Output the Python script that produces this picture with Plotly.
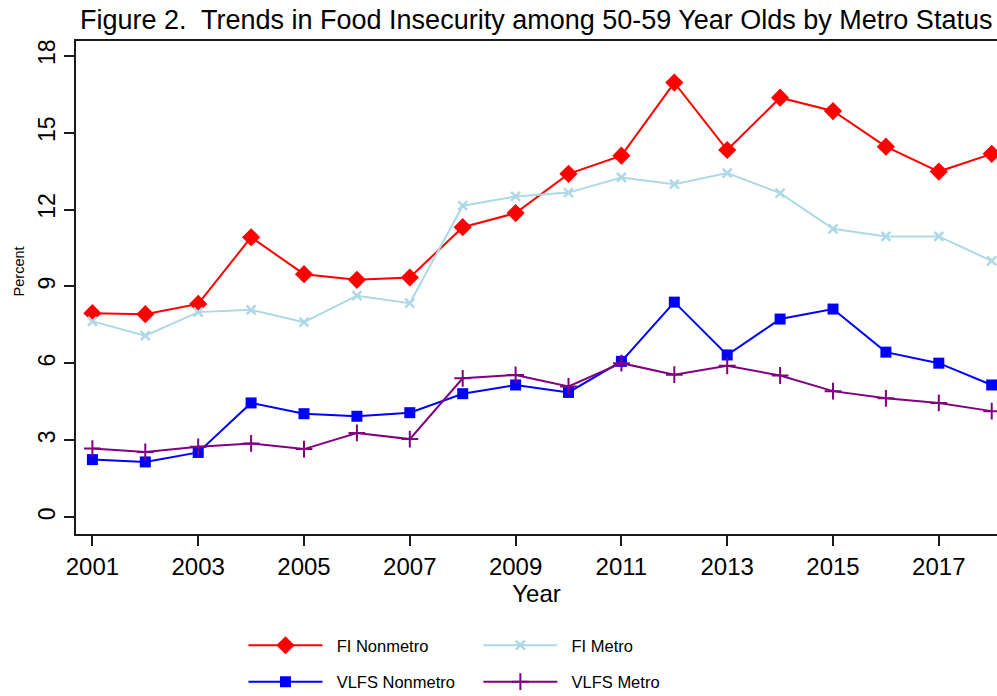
import plotly.graph_objects as go

# Survey years
years = list(range(2001, 2019))

# Food insecurity rates (percent) for 50-59 year olds
fi_nonmetro = [7.96, 7.92, 8.32, 10.92, 9.48, 9.26, 9.35, 11.31, 11.86,
               13.39, 14.10, 16.95, 14.32, 16.36, 15.84, 14.45, 13.48, 14.17]
fi_metro = [7.64, 7.08, 8.00, 8.09, 7.61, 8.64, 8.35, 12.15, 12.51,
            12.66, 13.25, 12.99, 13.42, 12.64, 11.25, 10.95, 10.95, 10.00]
vlfs_nonmetro = [2.25, 2.16, 2.53, 4.46, 4.04, 3.94, 4.08, 4.82, 5.16,
                 4.87, 6.08, 8.39, 6.33, 7.73, 8.12, 6.44, 6.01, 5.16]
vlfs_metro = [2.68, 2.55, 2.75, 2.88, 2.66, 3.29, 3.05, 5.42, 5.55,
              5.10, 6.01, 5.56, 5.91, 5.53, 4.92, 4.64, 4.46, 4.14]

x_ticks = list(range(2001, 2019, 2))
y_ticks = [0, 3, 6, 9, 12, 15, 18]

FONT = "Liberation Sans, Arial, sans-serif"
GAP = "\u00a0\u00a0"  # small space between legend key and label

fig = go.Figure()

fig.add_trace(go.Scatter(
    x=years, y=fi_nonmetro, name=GAP + "FI Nonmetro", mode="lines+markers",
    line=dict(color="#FF0000", width=2),
    marker=dict(symbol="diamond", size=14, color="#FF0000"),
    legend="legend", legendgroup="a"))
fig.add_trace(go.Scatter(
    x=years, y=fi_metro, name=GAP + "FI Metro", mode="lines+markers",
    line=dict(color="#ADD8E6", width=2),
    marker=dict(symbol="x-thin", size=9, color="#ADD8E6",
                line=dict(color="#ADD8E6", width=2.5)),
    legend="legend2", legendgroup="b"))
fig.add_trace(go.Scatter(
    x=years, y=vlfs_nonmetro, name=GAP + "VLFS Nonmetro", mode="lines+markers",
    line=dict(color="#0000FF", width=2),
    marker=dict(symbol="square", size=11, color="#0000FF"),
    legend="legend", legendgroup="c"))
fig.add_trace(go.Scatter(
    x=years, y=vlfs_metro, name=GAP + "VLFS Metro", mode="lines+markers",
    line=dict(color="#800080", width=2),
    marker=dict(symbol="cross-thin", size=12, color="#800080",
                line=dict(color="#800080", width=2)),
    legend="legend2", legendgroup="d"))

legend_common = dict(
    orientation="v", xanchor="left", yanchor="top",
    xref="container", yref="container",
    font=dict(family=FONT, size=16.5, color="#000000"),
    bgcolor="rgba(0,0,0,0)", borderwidth=0,
    itemwidth=74, tracegroupgap=12,
)

fig.update_layout(
    width=997, height=696,
    margin=dict(l=75.5, r=0, t=41, b=161.7, autoexpand=False),
    paper_bgcolor="white", plot_bgcolor="white",
    title=dict(
        text="Figure 2.  Trends in Food Insecurity among 50-59 Year Olds by Metro Status",
        font=dict(family=FONT, size=27, color="#000000"),
        x=0.5378, xanchor="center", y=1 - 20 / 696, yanchor="middle",
        yref="container", xref="container"),
    xaxis=dict(
        range=[2000.69, 2018.1], tickvals=x_ticks, ticktext=[str(v) for v in x_ticks],
        showgrid=False, zeroline=False, automargin=False,
        showline=True, linecolor="#1a1a1a", linewidth=2, mirror=True,
        ticks="outside", ticklen=10, tickwidth=1.5, tickcolor="#1a1a1a",
        tickfont=dict(family=FONT, size=24, color="#000000"),
        title=dict(text="Year", font=dict(family=FONT, size=24, color="#000000"),
                   standoff=2),
    ),
    yaxis=dict(
        range=[-0.65, 18.57], tickvals=y_ticks, ticktext=[str(v) for v in y_ticks],
        showgrid=False, zeroline=False, automargin=False,
        showline=True, linecolor="#1a1a1a", linewidth=2,
        ticks="outside", ticklen=10, tickwidth=1.5, tickcolor="#1a1a1a",
        tickangle=-90,
        tickfont=dict(family=FONT, size=23, color="#000000"),
    ),
    legend=dict(x=0.2442, y=0.0977, **legend_common),
    legend2=dict(x=0.4798, y=0.0977, **legend_common),
    annotations=[dict(
        text="Percent", textangle=-90, showarrow=False,
        xref="paper", yref="paper", x=-0.0624, y=0.5317,
        xanchor="center", yanchor="middle",
        font=dict(family=FONT, size=14.5, color="#000000"),
    )],
)

fig.write_html("out.html")
